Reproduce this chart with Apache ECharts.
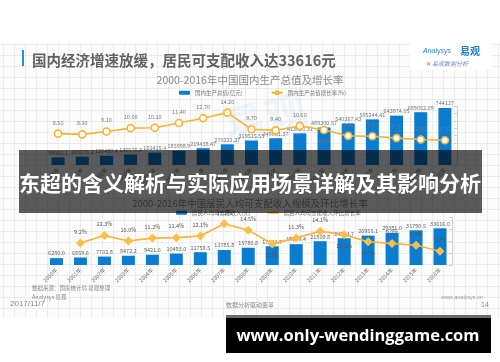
<!DOCTYPE html>
<html><head><meta charset="utf-8">
<script src="https://cdn.jsdelivr.net/npm/echarts@6/dist/echarts.min.js"></script>
<style>
html,body{margin:0;padding:0;background:#fff;}
#wrap{position:relative;width:500px;height:362px;overflow:hidden;background:#fff;}
#slide{position:absolute;left:0;top:42px;width:500px;height:276px;background-color:#fcfcfc;
background-image:linear-gradient(#ececec 1px,transparent 1px),linear-gradient(90deg,#ececec 1px,transparent 1px);
background-size:11px 11px;background-position:3px 2px;}
#chart{position:absolute;left:0;top:0;width:500px;height:362px;}
</style></head>
<body><div id="wrap"><div id="slide"></div><div id="chart"></div></div>
<script>
const years = ['2000年','2001年','2002年','2003年','2004年','2005年','2006年','2007年','2008年','2009年','2010年','2011年','2012年','2013年','2014年','2015年','2016年'];
const gdp = [99066.1,109276.2,120480.4,136576.3,161415.4,185998.9,219438.47,270232.27,319515.55,349081.37,413030.31,489300.57,540367.43,595244.41,643974.05,689052.09,744127];
const gdpGrowth = [8.50,8.30,9.10,10.00,10.10,11.40,12.70,14.20,9.70,9.40,10.60,9.50,7.90,7.80,7.30,6.90,6.70];
const income = [6280.0,6859.6,7702.8,8472.2,9421.6,10493.0,11759.5,13785.8,15780.8,17174.7,19109.4,21809.8,24564.7,26955.1,29381.0,31790.5,33616.0];
const incomeGrowth = [null,9.2,12.3,10.0,11.2,11.4,12.1,17.2,14.5,8.8,11.3,14.1,12.6,9.7,9.0,8.2,5.7];

const F = '"Noto Sans CJK SC", "Noto Sans", sans-serif';
const BLUE = '#0a7dd0', ORANGE = '#f9b233';
const gdpBelow = [11];
const incBelow = [9,12,13];

const chart = echarts.init(document.getElementById('chart'), null, {renderer:'canvas'});
const xAxisBase = {
  type:'category', data: years,
  axisLine:{show:false}, axisTick:{show:false},
  axisLabel:{rotate:45, fontSize:5.5, color:'#777', margin:4, fontFamily:F, interval:0}
};
chart.setOption({
  animation:false,
  textStyle:{fontFamily:F},
  title:[
    {text:'国内经济增速放缓，居民可支配收入达33616元', left:27, top:48,
     textStyle:{fontSize:14.5, fontWeight:'bold', color:'#626262', fontFamily:F}},
    {text:'2000-2016年中国国内生产总值及增长率', left:'center', top:70,
     textStyle:{fontSize:10.5, fontWeight:'normal', color:'#8a8a8a', fontFamily:F}},
    {text:'2000-2016年中国居民人均可支配收入规模及环比增长率', left:'center', top:194,
     textStyle:{fontSize:9.5, fontWeight:'normal', color:'#8a8a8a', fontFamily:F}}
  ],
  legend:[
    {left:174, top:85, itemWidth:11, itemHeight:4, itemGap:28,
     textStyle:{fontSize:5.5, color:'#777', fontFamily:F},
     data:['国内生产总值(亿元)','国内生产总值增长率(%)']},
    {left:171, top:205, itemWidth:11, itemHeight:4, itemGap:16,
     textStyle:{fontSize:5.5, color:'#777', fontFamily:F},
     data:['居民人均可支配收入(元)','居民人均可支配收入环比增长率']}
  ],
  grid:[
    {left:46, right:43, top:106, bottom:197},
    {left:44.5, right:48, top:217, bottom:97}
  ],
  xAxis:[
    Object.assign({gridIndex:0}, xAxisBase),
    Object.assign({gridIndex:1}, xAxisBase)
  ],
  yAxis:[
    {gridIndex:0, type:'value', min:0, max:770000, show:false, splitLine:{show:false}},
    {gridIndex:0, type:'value', min:0, max:16, interval:2, position:'right',
     axisLine:{show:true, lineStyle:{color:'#cfcfcf'}}, axisTick:{show:true, inside:true, length:3, lineStyle:{color:'#cfcfcf'}},
     axisLabel:{show:false}, splitLine:{show:false}},
    {gridIndex:1, type:'value', min:0, max:44000, show:false, splitLine:{show:false}},
    {gridIndex:1, type:'value', min:0, max:20, interval:5, position:'right',
     axisLine:{show:true, lineStyle:{color:'#cfcfcf'}}, axisTick:{show:true, inside:true, length:3, lineStyle:{color:'#cfcfcf'}},
     axisLabel:{show:false}, splitLine:{show:false}}
  ],
  series:[
    {name:'国内生产总值(亿元)', type:'bar', xAxisIndex:0, yAxisIndex:0, barWidth:13,
     data: gdp, itemStyle:{color:BLUE},
     label:{show:true, position:'top', distance:2, fontSize:5.5, color:'#777', fontFamily:F,
            formatter:p=>String(p.value)}},
    {name:'国内生产总值增长率(%)', type:'line', xAxisIndex:0, yAxisIndex:1,
     data: gdpGrowth.map((v,i)=> gdpBelow.includes(i) ? {value:v, label:{position:'bottom'}} : v),
     symbol:'circle', symbolSize:7, z:5,
     itemStyle:{color:'#fff', borderColor:ORANGE, borderWidth:1.6},
     lineStyle:{color:ORANGE, width:1.6},
     label:{show:true, position:'top', distance:4, fontSize:5.5, color:'#777', fontFamily:F,
            formatter:p=>Number(p.value).toFixed(2)}},
    {name:'居民人均可支配收入(元)', type:'bar', xAxisIndex:1, yAxisIndex:2, barWidth:13,
     data: income, itemStyle:{color:BLUE},
     label:{show:true, position:'top', distance:2, fontSize:5.5, color:'#666', fontFamily:F,
            formatter:p=>Number(p.value).toFixed(1)}},
    {name:'居民人均可支配收入环比增长率', type:'line', xAxisIndex:1, yAxisIndex:3,
     data: incomeGrowth.map((v,i)=> incBelow.includes(i) ? {value:v, label:{position:'bottom'}} : v),
     symbol:'diamond', symbolSize:9, z:5,
     itemStyle:{color:'#fcbf45'},
     lineStyle:{color:ORANGE, width:1.6},
     label:{show:true, position:'top', distance:4, fontSize:5.5, color:'#555', fontFamily:F,
            formatter:p=>Number(p.value).toFixed(1)+'%'}}
  ],
  graphic:[
    {type:'rect', shape:{x:22, y:50, width:2, height:16}, style:{fill:'#1f8fda'}},
    {type:'rect', shape:{x:410, y:42, width:82, height:28}, style:{fill:'#ffffff'}, z:-1},
    {type:'text', x:423, y:51, style:{text:'Analysys', font:'italic 7px "Liberation Sans", sans-serif', fill:'#1f7fcc', textVerticalAlign:'middle'}},
    {type:'text', x:460, y:51, style:{text:'易观', font:'bold 10px '+F, fill:'#1f7fcc', textVerticalAlign:'middle'}},
    {type:'text', x:432, y:64, style:{text:'易观数据分析', font:'italic 6px '+F, fill:'#6a8fb8', textVerticalAlign:'middle'}},
    {type:'text', x:428, y:64, style:{text:'✕', font:'bold 6px '+F, fill:'#f08a3c', textVerticalAlign:'middle', textAlign:'center'}},
    {type:'text', x:265, y:118, rotation:0.25, style:{text:'易观', font:'bold 42px '+F, fill:'rgba(40,150,220,0.07)', textAlign:'center', textVerticalAlign:'middle'}},
    {type:'text', x:32, y:288, style:{text:'数据来源：国家统计局 易观整理', font:'5.5px '+F, fill:'#888', textVerticalAlign:'middle'}},
    {type:'text', x:32, y:297, style:{text:'Analysys 易观', font:'5.5px '+F, fill:'#888', textVerticalAlign:'middle'}},
    {type:'text', x:10, y:304, style:{text:'2017/11/7', font:'8px "Liberation Sans", sans-serif', fill:'#8a8a8a', textVerticalAlign:'middle'}},
    {type:'text', x:250, y:305, style:{text:'数据分析驱动变革', font:'6px '+F, fill:'#888', textAlign:'center', textVerticalAlign:'middle'}},
    {type:'text', x:462, y:297, style:{text:'www.analysys.cn', font:'5.5px "Liberation Sans", sans-serif', fill:'#999', textAlign:'center', textVerticalAlign:'middle'}},
    {type:'text', x:485, y:305, style:{text:'14', font:'7px "Liberation Sans", sans-serif', fill:'#888', textAlign:'center', textVerticalAlign:'middle'}},
    {type:'rect', shape:{x:19, y:150, width:463, height:63}, style:{fill:'rgba(0,0,0,0.64)'}, z:100},
    {type:'text', x:250, y:183, z:101, style:{text:'东超的含义解析与实际应用场景详解及其影响分析', font:'bold 21px '+F, fill:'#ffffff', textAlign:'center', textVerticalAlign:'middle'}},
    {type:'rect', shape:{x:226, y:315, width:265, height:3}, style:{fill:'#6a6a6a'}, z:100},
    {type:'rect', shape:{x:226, y:318, width:265, height:35}, style:{fill:'#000000'}, z:100},
    {type:'text', x:358, y:336, z:101, style:{text:'www.only-wendinggame.com', font:'bold 16.5px "Open Sans", "DejaVu Sans", sans-serif', fill:'#ffffff', textAlign:'center', textVerticalAlign:'middle'}}
  ]
});
</script></body></html>
